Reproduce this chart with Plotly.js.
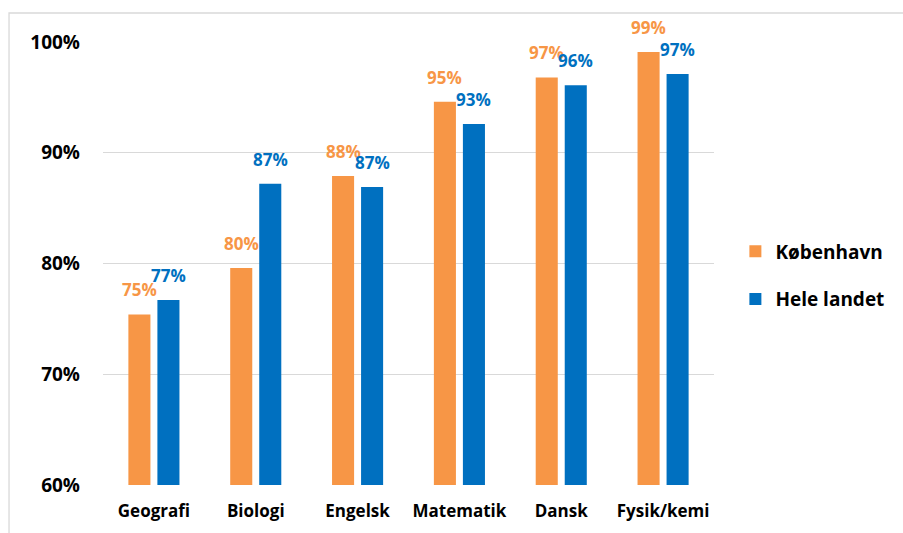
<!DOCTYPE html>
<html>
<head>
<meta charset="utf-8">
<script src="https://cdn.plot.ly/plotly-3.0.1.min.js"></script>
<style>
html,body{margin:0;padding:0;background:#fff;}
#chart{width:903px;height:533px;}
</style>
</head>
<body>
<div id="chart"></div>
<script>
var categories = ["Geografi", "Biologi", "Engelsk", "Matematik", "Dansk", "Fysik/kemi"];
var kobenhavn = [75.4, 79.6, 87.9, 94.6, 96.8, 99.1];
var heleLandet = [76.7, 87.2, 86.9, 92.6, 96.1, 97.1];
var seriesNames = ["København", "Hele landet"];
var yTicks = [60, 70, 80, 90, 100];

var ORANGE = "#F79646";
var BLUE = "#0070C0";
var FONT = "'Open Sans', 'Noto Sans', sans-serif";

var traces = [
  {type: "bar", name: seriesNames[0], x: categories, y: kobenhavn,
   marker: {color: ORANGE}, legendgroup: "a", hoverinfo: "none"},
  {type: "bar", name: seriesNames[1], x: categories, y: heleLandet,
   marker: {color: BLUE}, legendgroup: "b", hoverinfo: "none"}
];

var annotations = [];
function addLabels(vals, color, shift) {
  for (var i = 0; i < categories.length; i++) {
    annotations.push({
      x: categories[i], y: vals[i], xref: "x", yref: "y",
      text: Math.round(vals[i]) + "%",
      showarrow: false, xshift: shift, yshift: 11, yanchor: "bottom",
      font: {family: FONT, size: 17, color: color, weight: "bold"}
    });
  }
}
addLabels(kobenhavn, ORANGE, -14.5);
addLabels(heleLandet, BLUE, 14.5);

var layout = {
  width: 903, height: 533,
  margin: {l: 103, r: 189, t: 42, b: 48, pad: 0},
  paper_bgcolor: "#fff", plot_bgcolor: "#fff",
  barmode: "group", bargap: 0.43, bargroupgap: 0.24,
  showlegend: true,
  legend: {x: 1.035, xanchor: "left", y: 0.57, yanchor: "top",
           traceorder: "grouped", tracegroupgap: 20,
           font: {family: FONT, size: 19, color: "#000", weight: "bold"},
           bgcolor: "rgba(0,0,0,0)"},
  xaxis: {type: "category", showgrid: false, zeroline: false, showline: false,
          ticks: "outside", ticklen: 11, tickcolor: "rgba(0,0,0,0)",
          tickfont: {family: FONT, size: 17, color: "#000", weight: "bold"}},
  yaxis: {range: [60, 100], tickvals: yTicks, ticktext: yTicks.map(function(v){return v + "%";}),
          showgrid: true, gridcolor: "#d9d9d9", gridwidth: 1.3, zeroline: false, showline: false,
          ticks: "", ticklabelstandoff: 22,
          tickfont: {family: FONT, size: 19, color: "#000", weight: "bold"}},
  annotations: annotations,
  shapes: [{type: "rect", xref: "paper", yref: "paper",
            x0: -0.1538, x1: 1.33, y0: -0.13, y1: 1.0655,
            line: {color: "#d9d9d9", width: 1.3}, fillcolor: "rgba(0,0,0,0)", layer: "below"}]
};

Plotly.newPlot("chart", traces, layout, {displayModeBar: false, staticPlot: true});
</script>
</body>
</html>
